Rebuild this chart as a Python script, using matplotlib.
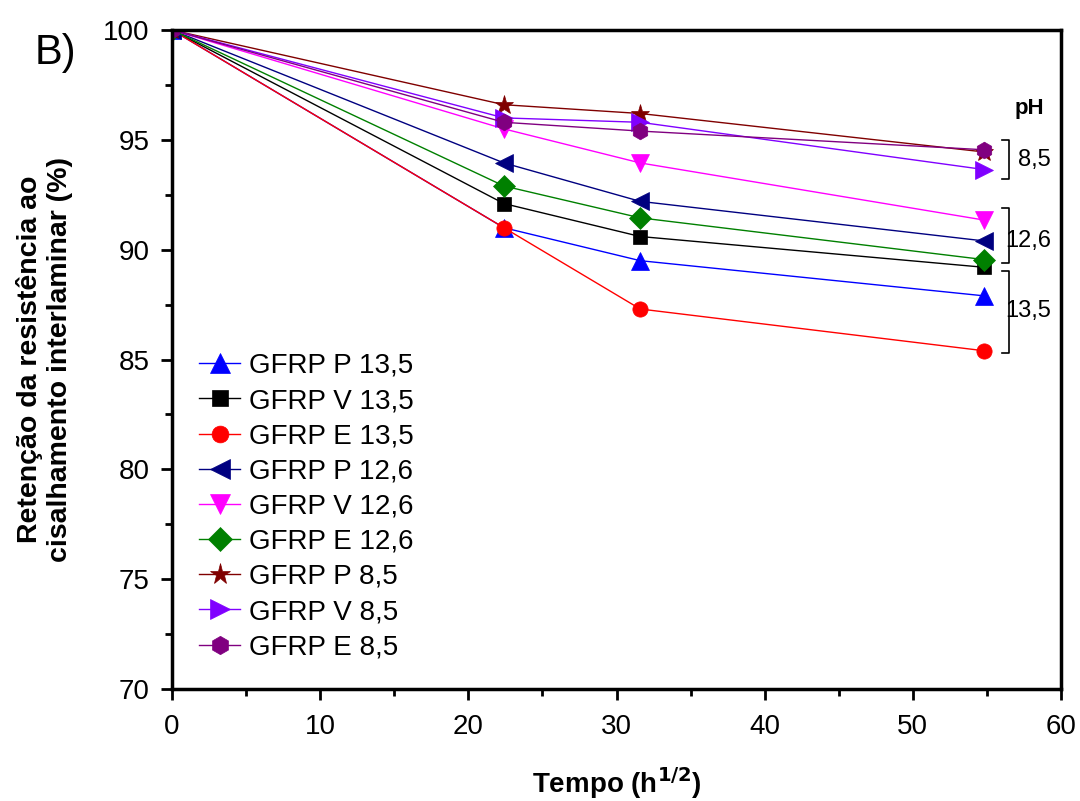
import matplotlib
matplotlib.use("Agg")
import matplotlib.pyplot as plt
from matplotlib.ticker import MultipleLocator

plt.rcParams['font.family'] = ['Liberation Sans', 'DejaVu Sans']

# tempo (h^1/2)
t = [0, 22.4, 31.6, 54.8]

labels = ["GFRP P 13,5", "GFRP V 13,5", "GFRP E 13,5",
          "GFRP P 12,6", "GFRP V 12,6", "GFRP E 12,6",
          "GFRP P 8,5", "GFRP V 8,5", "GFRP E 8,5"]

p135 = [100, 91.0, 89.5, 87.9]
v135 = [100, 92.1, 90.6, 89.2]
e135 = [100, 91.0, 87.3, 85.4]
p126 = [100, 93.95, 92.2, 90.4]
v126 = [100, 95.5, 93.95, 91.35]
e126 = [100, 92.9, 91.45, 89.55]
p85 = [100, 96.6, 96.2, 94.45]
v85 = [100, 96.0, 95.8, 93.65]
e85 = [100, 95.8, 95.4, 94.55]

series = [p135, v135, e135, p126, v126, e126, p85, v85, e85]
colors = ['#0000FF', '#000000', '#FF0000', '#000080', '#FF00FF',
          '#008000', '#800000', '#8000FF', '#800080']
markers = ['^', 's', 'o', '<', 'v', 'D', '*', '>', 'h']
msizes = [13, 10, 11, 13, 13, 11, 14, 13, 12]

fig = plt.figure(figsize=(10.8, 8.01), dpi=100)
ax = fig.add_axes([0.1593, 0.1398, 0.8231, 0.8227])

for y, c, m, ms, lab in zip(series, colors, markers, msizes, labels):
    ax.plot(t, y, color=c, marker=m, markersize=ms, linewidth=1.0,
            markeredgewidth=0.5, label=lab)

ax.set_xlim(0, 60)
ax.set_ylim(70, 100)
ax.xaxis.set_major_locator(MultipleLocator(10))
ax.xaxis.set_minor_locator(MultipleLocator(5))
ax.yaxis.set_major_locator(MultipleLocator(5))
ax.yaxis.set_minor_locator(MultipleLocator(2.5))
ax.tick_params(which='major', direction='out', length=8, width=2,
               labelsize=20)
ax.tick_params(axis='x', which='major', pad=10)
ax.tick_params(axis='y', which='major', pad=8)
ax.tick_params(which='minor', direction='out', length=5, width=2)
for s in ax.spines.values():
    s.set_linewidth(2.5)

ax.set_xlabel(r"Tempo (h$^{\mathbf{1/2}}$)", fontsize=20, fontweight='bold',
              labelpad=18)
ax.set_ylabel("Retenção da resistência ao\ncisalhamento interlaminar (%)",
              fontsize=20.5, fontweight='bold', labelpad=22, linespacing=1.2)

fig.text(0.032, 0.92, "B)", fontsize=30)

leg = ax.legend(loc='upper left', bbox_to_anchor=(0.03, 0.51), frameon=False,
                fontsize=20, borderpad=0, borderaxespad=0, handlelength=1.5,
                handletextpad=0.3, labelspacing=0.33, markerscale=1.1)

# pH brackets
bx0, bx1 = 56.0, 56.5
for ylo, yhi in [(93.2, 95.0), (89.4, 91.9), (85.3, 89.05)]:
    ax.plot([bx0, bx1, bx1, bx0], [yhi, yhi, ylo, ylo], color='black',
            linewidth=1.2, clip_on=False)
ax.text(57.9, 96.45, "pH", fontsize=16, fontweight='bold', ha='center', va='center')
ax.text(58.2, 94.1, "8,5", fontsize=17, ha='center', va='center')
ax.text(57.8, 90.4, "12,6", fontsize=17, ha='center', va='center')
ax.text(57.8, 87.2, "13,5", fontsize=17, ha='center', va='center')

fig.savefig("out.png", dpi=100)
